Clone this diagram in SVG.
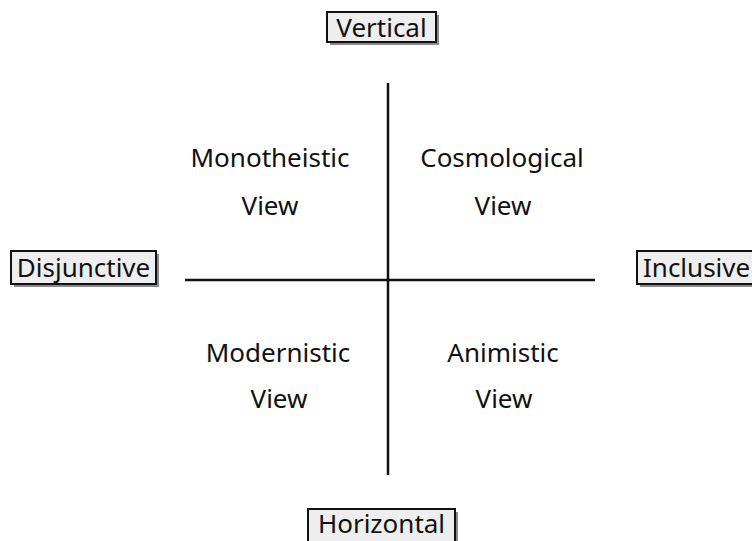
<svg xmlns="http://www.w3.org/2000/svg" width="752" height="541" viewBox="0 0 752 541">
<defs>
<style>
text{font-family:"Noto Sans","Open Sans","DejaVu Sans",sans-serif;font-size:26px;fill:#111;text-anchor:middle}
.box{fill:#eeeeee;stroke:#111;stroke-width:2}
.shadow{fill:#8a8a8a}
.axis{stroke:#111;stroke-width:2.5;fill:none}
</style>
</defs>
<rect width="752" height="541" fill="#ffffff"/>
<g id="connectors">
<line class="axis" x1="388" y1="83" x2="388" y2="475"/>
<line class="axis" x1="185" y1="280" x2="595" y2="280"/>
</g>
<g id="vertical">
<rect class="shadow" x="330" y="15" width="109" height="30"/>
<rect class="box" x="327" y="12" width="109" height="30"/>
<text x="381.5" y="37">Vertical</text>
</g>
<g id="disjunctive">
<rect class="shadow" x="14" y="254" width="145" height="33"/>
<rect class="box" x="11" y="251" width="145" height="33"/>
<text x="83.5" y="277">Disjunctive</text>
</g>
<g id="inclusive">
<rect class="shadow" x="640" y="254" width="120" height="33"/>
<rect class="box" x="637" y="251" width="120" height="33"/>
<text x="643" y="277" style="text-anchor:start">Inclusive</text>
</g>
<g id="horizontal">
<rect class="shadow" x="311" y="512" width="147" height="35"/>
<rect class="box" x="308" y="509" width="147" height="35"/>
<text x="381.5" y="533">Horizontal</text>
</g>
<g id="monotheistic">
<text x="270" y="167">Monotheistic</text>
<text x="270" y="215">View</text>
</g>
<g id="cosmological">
<text x="502" y="167">Cosmological</text>
<text x="503" y="215">View</text>
</g>
<g id="modernistic">
<text x="278" y="362">Modernistic</text>
<text x="279" y="408">View</text>
</g>
<g id="animistic">
<text x="503" y="362">Animistic</text>
<text x="504" y="408">View</text>
</g>
</svg>
